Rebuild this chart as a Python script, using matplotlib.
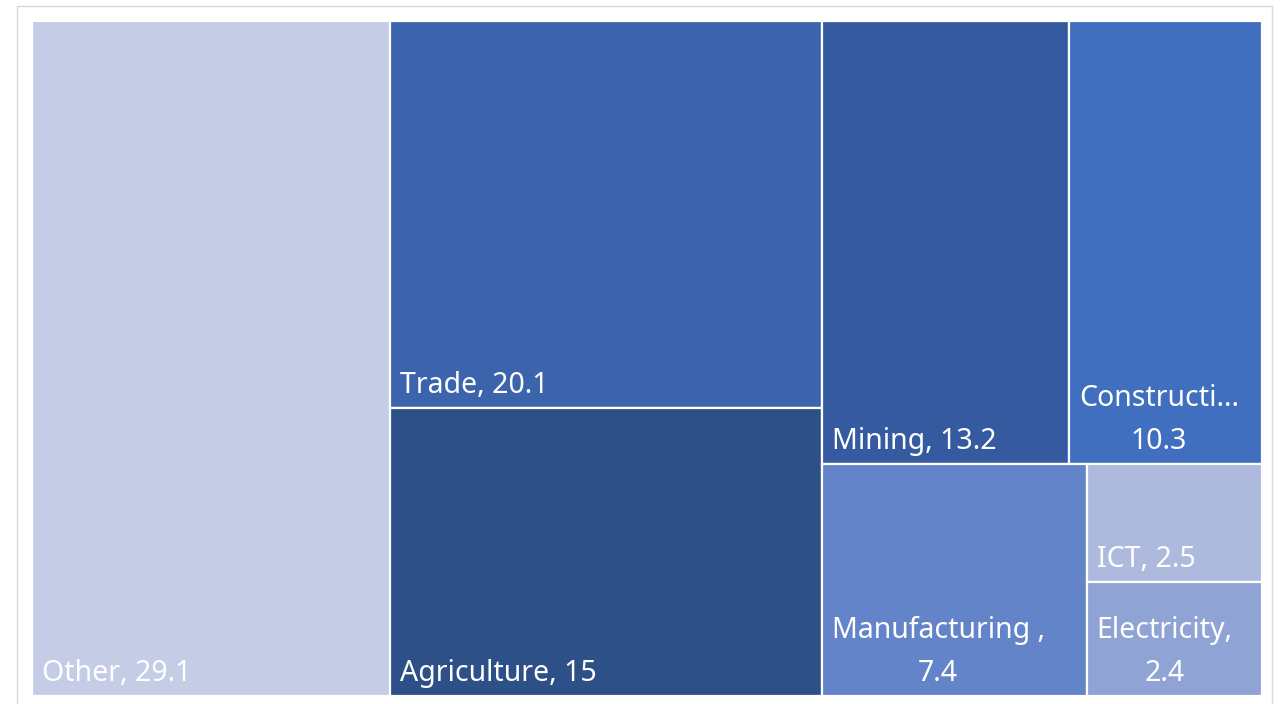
import matplotlib
matplotlib.use("Agg")
import matplotlib.pyplot as plt
from matplotlib.patches import Rectangle

# ---- data ----
categories = ["Other", "Trade", "Agriculture", "Mining", "Construction",
              "Manufacturing ", "ICT", "Electricity"]
values = [29.1, 20.1, 15, 13.2, 10.3, 7.4, 2.5, 2.4]
colors = ["#C5CDE6", "#3C64AD", "#2E5088", "#355AA0", "#416FBF",
          "#6384C8", "#ADB9DD", "#8FA3D4"]
# number of tiles placed in each strip of the treemap layout
strips = [1, 2, 2, 1, 1, 1]

W_PX, H_PX = 1281, 704
DPI = 100
plt.rcParams['font.family'] = ['Noto Sans', 'DejaVu Sans']

fig = plt.figure(figsize=(W_PX / DPI, H_PX / DPI), dpi=DPI)
fig.patch.set_facecolor("white")

# outer light frame
fig.patches.append(Rectangle((17 / W_PX, -0.05), (1272 - 17) / W_PX,
                             (H_PX - 6) / H_PX + 0.05, transform=fig.transFigure,
                             fill=False, edgecolor="#D9D9D9", linewidth=1.0))

ax_l, ax_t, ax_r, ax_b = 32, 21, 1262, 696
ax = fig.add_axes([ax_l / W_PX, (H_PX - ax_b) / H_PX,
                   (ax_r - ax_l) / W_PX, (ax_b - ax_t) / H_PX])
AW, AH = ax_r - ax_l, ax_b - ax_t
ax.set_xlim(0, AW)
ax.set_ylim(AH, 0)
ax.axis("off")


def layout(vals, strips, x, y, w, h):
    rects = []
    i = 0
    remaining = sum(vals)
    for n in strips:
        group = vals[i:i + n]
        s = sum(group)
        if w >= h:
            cw = w * s / remaining
            yy = y
            for v in group:
                ch = h * v / s
                rects.append((x, yy, cw, ch))
                yy += ch
            x += cw
            w -= cw
        else:
            rh = h * s / remaining
            xx = x
            for v in group:
                rw = w * v / s
                rects.append((xx, y, rw, rh))
                xx += rw
            y += rh
            h -= rh
        remaining -= s
        i += n
    return rects


rects = layout(values, strips, 0, 0, AW, AH)

FS = 20.5
pad = 10
fig.canvas.draw()
renderer = fig.canvas.get_renderer()


def text_width(s):
    t = ax.text(0, 0, s, fontsize=FS)
    bb = t.get_window_extent(renderer=renderer)
    t.remove()
    return bb.width


for (x, y, w, h), name, v, c in zip(rects, categories, values, colors):
    ax.add_patch(Rectangle((x, y), w, h, facecolor=c, edgecolor="white",
                           linewidth=1.6))
    val = f"{v:g}"
    avail = w - 2 * pad
    one = f"{name}, {val}"
    if text_width(one) <= avail:
        label = one
        ma = "left"
    else:
        first = f"{name},"
        if text_width(first) > avail:
            nm = name
            while nm and text_width(nm + "...") > avail:
                nm = nm[:-1]
            first = nm + "..."
        label = f"{first}\n{val}"
        ma = "center"
    ax.text(x + pad, y + h - 15, label, fontsize=FS, color="white",
            ha="left", va="baseline", multialignment=ma, linespacing=1.65)

fig.savefig("out.png", dpi=DPI, facecolor="white")
